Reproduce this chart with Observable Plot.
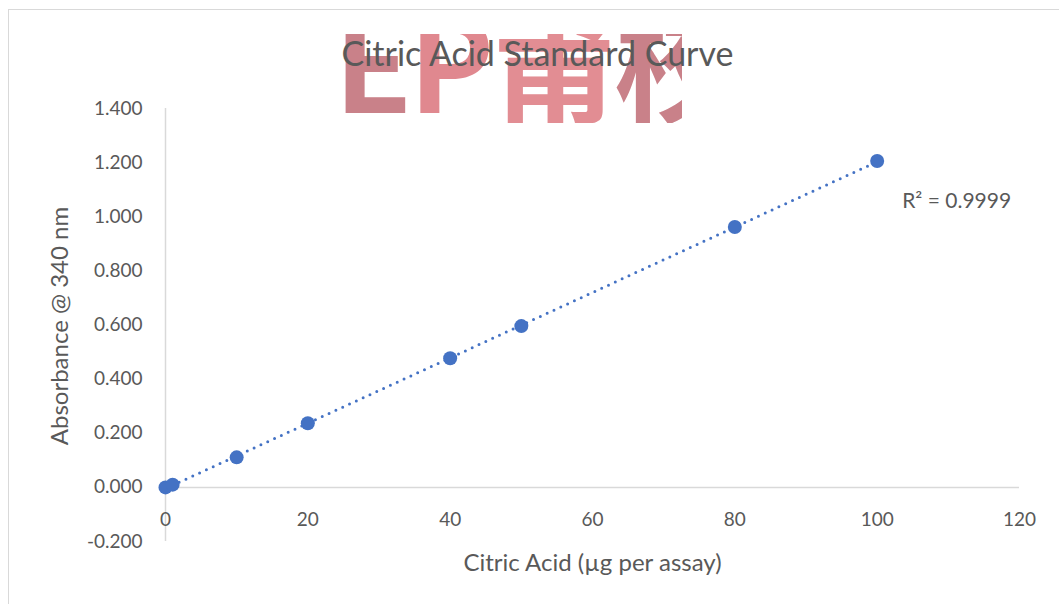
<!DOCTYPE html>
<html>
<head>
<meta charset="utf-8">
<script src="https://cdn.jsdelivr.net/npm/d3@7"></script>
<script src="https://cdn.jsdelivr.net/npm/@observablehq/plot@0.6"></script>
<style>
  html, body { margin: 0; padding: 0; background: #fff; }
  #wrap { position: relative; width: 1059px; height: 604px; overflow: hidden; font-family: Lato, "Open Sans", sans-serif; }
  #border { position: absolute; left: 8px; top: 9px; width: 1100px; height: 700px; border: 1.5px solid #d9d9d9; box-sizing: border-box; }
  #mark { position: absolute; left: 340px; top: 34px; width: 342px; height: 89px; overflow: hidden; }
  #mark span.all { position: absolute; left: -6px; top: -40px; font-family: "Noto Sans CJK SC", sans-serif; font-weight: 700; font-size: 128px; line-height: 1; letter-spacing: -4px; white-space: nowrap; }
  #chart { position: absolute; left: 0; top: 0; }
</style>
</head>
<body>
<div id="wrap">
  <div id="border"></div>
  <div id="mark"><span class="all"><span style="color:#c98189">E</span><span style="color:#e0888f">P</span><span style="color:#e28d93">莆</span><span style="color:#c98189">校</span></span></div>
  <div id="chart"></div>
</div>
<script>
const titleText = "Citric Acid Standard Curve";
const xLabel = "Citric Acid (µg per assay)";
const yLabel = "Absorbance @ 340 nm";
const r2Text = "R² = 0.9999";
const concentrations = [0, 1, 10, 20, 40, 50, 80, 100];
const absorbances = [0.000, 0.010, 0.111, 0.237, 0.477, 0.596, 0.962, 1.206];
const xTicks = [0, 20, 40, 60, 80, 100, 120];
const yTicks = [-0.2, 0, 0.2, 0.4, 0.6, 0.8, 1.0, 1.2, 1.4];

const data = concentrations.map((c, i) => ({x: c, y: absorbances[i]}));
const blue = "#4472c4";
const textCol = "#595959";
const gridCol = "#d9d9d9";
const fmt = d => d3.format(".3f")(d).replace("−", "-");

const chart = Plot.plot({
  width: 1059,
  height: 604,
  marginLeft: 165,
  marginRight: 40,
  marginTop: 108,
  marginBottom: 63,
  style: {background: "transparent", fontFamily: "Lato, 'Open Sans', sans-serif", color: textCol},
  x: {domain: [0, 120]},
  y: {domain: [-0.2, 1.4]},
  marks: [
    Plot.ruleX([0], {stroke: gridCol, strokeWidth: 1.5}),
    Plot.ruleY([0], {stroke: gridCol, strokeWidth: 1.5}),
    Plot.axisY({ticks: yTicks, tickFormat: fmt, tickSize: 0, tickPadding: 23, fontSize: 19, fill: textCol, label: null}),
    Plot.axisX({ticks: [], tickSize: 0, label: null}),
    Plot.text(xTicks, {x: d => d, y: 0, dy: 33, text: d => String(d), fontSize: 19, fill: textCol}),
    Plot.linearRegressionY(data, {x: "x", y: "y", ci: 0, stroke: blue, strokeWidth: 3, strokeDasharray: "0,7.5", strokeLinecap: "round"}),
    Plot.dot(data, {x: "x", y: "y", r: 7, fill: blue, stroke: "none"}),
    Plot.text([titleText], {frameAnchor: "top", dx: -55, dy: -67, fontSize: 34, fill: textCol}),
    Plot.text([yLabel], {frameAnchor: "left", textAnchor: "middle", dx: -105, dy: 1, rotate: -90, fontSize: 24, fill: textCol}),
    Plot.text([xLabel], {frameAnchor: "bottom", textAnchor: "middle", dy: 29, fontSize: 24, fill: textCol}),
    Plot.text([r2Text], {x: 100, y: 1.0, dx: 25, dy: -15, textAnchor: "start", fontSize: 21, fill: textCol})
  ]
});
document.getElementById("chart").appendChild(chart);
</script>
</body>
</html>
